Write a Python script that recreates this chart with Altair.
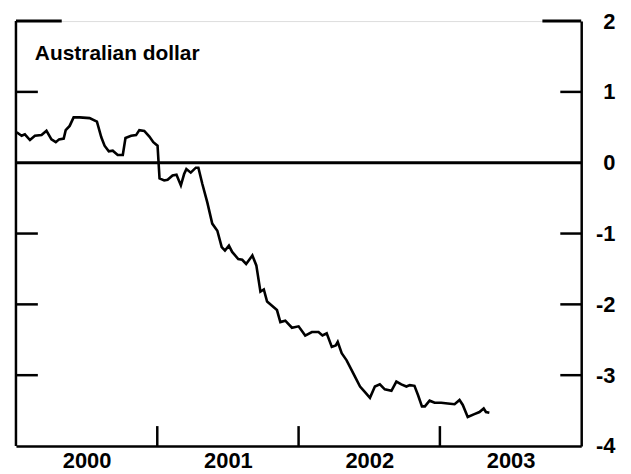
import altair as alt
import pandas as pd

# Series: Australian dollar (decimal year, value)
years = [2000.005, 2000.040, 2000.063, 2000.099, 2000.134, 2000.181, 2000.216, 2000.251,
         2000.282, 2000.305, 2000.338, 2000.352, 2000.380, 2000.408, 2000.451, 2000.521,
         2000.573, 2000.604, 2000.627, 2000.657, 2000.685, 2000.720, 2000.756, 2000.775,
         2000.815, 2000.850, 2000.873, 2000.908, 2000.944, 2000.972, 2001.002, 2001.016,
         2001.049, 2001.073, 2001.108, 2001.136, 2001.167, 2001.190, 2001.206, 2001.237,
         2001.273, 2001.291, 2001.319, 2001.354, 2001.389, 2001.425, 2001.456, 2001.479,
         2001.507, 2001.530, 2001.573, 2001.601, 2001.629, 2001.673, 2001.701, 2001.730,
         2001.754, 2001.777, 2001.812, 2001.847, 2001.871, 2001.906, 2001.953, 2002.000,
         2002.047, 2002.094, 2002.141, 2002.169, 2002.199, 2002.235, 2002.263, 2002.277,
         2002.305, 2002.340, 2002.399, 2002.435, 2002.470, 2002.505, 2002.540, 2002.575,
         2002.610, 2002.657, 2002.692, 2002.727, 2002.763, 2002.787, 2002.820, 2002.845,
         2002.873, 2002.894, 2002.927, 2002.963, 2003.009, 2003.056, 2003.104, 2003.139,
         2003.162, 2003.197, 2003.244, 2003.280, 2003.310, 2003.326, 2003.350]
values = [0.43, 0.38, 0.40, 0.32, 0.38, 0.39, 0.45, 0.33,
          0.29, 0.33, 0.34, 0.46, 0.52, 0.64, 0.64, 0.63,
          0.58, 0.36, 0.24, 0.16, 0.17, 0.11, 0.11, 0.35,
          0.38, 0.39, 0.46, 0.45, 0.37, 0.29, 0.24, -0.22,
          -0.25, -0.24, -0.18, -0.17, -0.32, -0.16, -0.09, -0.14,
          -0.07, -0.07, -0.30, -0.56, -0.86, -0.96, -1.19, -1.24,
          -1.17, -1.26, -1.36, -1.37, -1.43, -1.31, -1.45, -1.82,
          -1.79, -1.96, -2.02, -2.08, -2.25, -2.23, -2.33, -2.31,
          -2.44, -2.39, -2.39, -2.44, -2.41, -2.60, -2.58, -2.53,
          -2.69, -2.79, -3.02, -3.16, -3.24, -3.32, -3.16, -3.13,
          -3.20, -3.22, -3.09, -3.13, -3.16, -3.14, -3.15, -3.28,
          -3.44, -3.44, -3.36, -3.39, -3.39, -3.40, -3.41, -3.35,
          -3.42, -3.59, -3.55, -3.52, -3.47, -3.52, -3.53]

y_ticks = [-3, -2, -1, 1]
y_top = [2]
y_labels = [-4, -3, -2, -1, 0, 1, 2]
x_year_starts = [2000, 2001, 2002, 2003]
x_inner_ticks = [2001, 2002, 2003]
zero_line = [0]
title_text = "Australian dollar"

W, H = 568, 427
FONT = "Liberation Sans"

df = pd.DataFrame({"year": years, "value": values})

xscale = alt.Scale(domain=[2000, 2004], nice=False, zero=False)
yscale = alt.Scale(domain=[-4, 2], nice=False, zero=False)

line = alt.Chart(df).mark_line(color="black", strokeWidth=2.6).encode(
    x=alt.X("year:Q", scale=xscale,
            axis=alt.Axis(values=x_year_starts, labelExpr="'' + datum.value", tickSize=0,
                          labelOffset=71, labelPadding=5, labelFontSize=22,
                          labelFontWeight="bold", labelFont=FONT, labelColor="black",
                          domainColor="black", domainWidth=2.5, grid=False, title=None,
                          labelFlush=False)),
    y=alt.Y("value:Q", scale=yscale,
            axis=alt.Axis(orient="right", values=y_labels, labelExpr="'' + datum.value",
                          tickSize=0, labelAlign="right", labelPadding=34,
                          labelBaseline="middle", labelFontSize=22, labelFontWeight="bold",
                          labelFont=FONT, labelColor="black", domainColor="black",
                          domainWidth=2.5, grid=False, title=None, labelFlush=False)),
)

ydf = pd.DataFrame({"v": y_ticks})
left_ticks = alt.Chart(ydf).mark_rule(color="black", strokeWidth=2.5).encode(
    y=alt.Y("v:Q", scale=yscale), x=alt.value(0), x2=alt.value(22))
right_ticks = alt.Chart(ydf).mark_rule(color="black", strokeWidth=2.5).encode(
    y=alt.Y("v:Q", scale=yscale), x=alt.value(W - 21), x2=alt.value(W))

tdf = pd.DataFrame({"v": y_top})
top_left = alt.Chart(tdf).mark_rule(color="black", strokeWidth=3).encode(
    y=alt.Y("v:Q", scale=yscale), x=alt.value(0), x2=alt.value(46))
top_right = alt.Chart(tdf).mark_rule(color="black", strokeWidth=3).encode(
    y=alt.Y("v:Q", scale=yscale), x=alt.value(W - 39), x2=alt.value(W))

xdf = pd.DataFrame({"t": x_inner_ticks})
bottom_ticks = alt.Chart(xdf).mark_rule(color="black", strokeWidth=2.5).encode(
    x=alt.X("t:Q", scale=xscale), y=alt.value(H - 20), y2=alt.value(H))

left_domain = alt.Chart(tdf).mark_rule(color="black", strokeWidth=2.5).encode(
    x=alt.value(0), y=alt.value(0), y2=alt.value(H))

zdf = pd.DataFrame({"z": zero_line})
zero = alt.Chart(zdf).mark_rule(color="black", strokeWidth=3).encode(
    y=alt.Y("z:Q", scale=yscale), x=alt.value(0), x2=alt.value(W))

label = alt.Chart(pd.DataFrame({"t": [title_text]})).mark_text(
    align="left", baseline="alphabetic", fontSize=21, fontWeight="bold", font=FONT,
    color="black").encode(text="t:N", x=alt.value(19), y=alt.value(39))

chart = alt.layer(
    zero, left_domain, left_ticks, right_ticks, top_left, top_right, bottom_ticks, line, label
).properties(
    width=W, height=H,
    autosize=alt.AutoSizeParams(type="none"),
    padding={"left": 8, "top": 12, "right": 42, "bottom": 30},
).configure_view(stroke=None).configure(background="white")

chart.save("out.html", embed_options={"renderer": "svg", "actions": False})
